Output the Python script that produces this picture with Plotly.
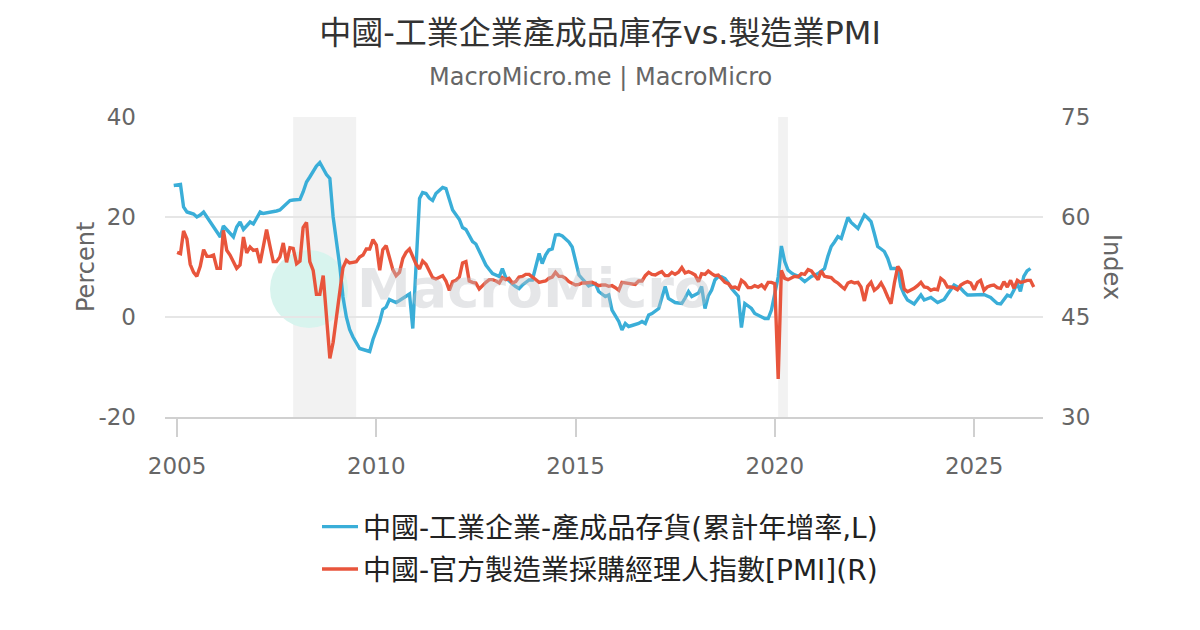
import plotly.graph_objects as go

# 中國-官方製造業PMI (月資料, 2005-01 起)
pmi_values = [
    54.7, 54.5, 57.9, 56.7, 52.9, 51.7, 51.1, 52.6, 55.1, 54.1, 54.1, 54.3,
    52.3, 52.3, 58.0, 55.0, 54.3, 53.3, 52.3, 52.8, 57.0, 54.6, 55.5, 55.0,
    55.1, 53.1, 55.6, 58.1, 55.7, 53.3, 53.3, 54.0, 56.1, 53.2, 55.4, 55.3,
    53.0, 53.4, 58.4, 59.2, 53.3, 52.0, 48.4, 48.4, 51.2, 44.6, 38.8, 41.2,
    45.3, 49.0, 52.4, 53.5, 53.1, 53.2, 53.3, 54.0, 54.3, 55.2, 55.2, 56.6,
    55.8, 52.0, 55.1, 55.7, 53.9, 52.1, 51.2, 51.7, 53.8, 54.7, 55.2, 53.9,
    52.9, 52.2, 53.4, 52.9, 52.0, 50.9, 50.7, 50.9, 51.2, 50.4, 49.0, 50.3,
    50.5, 51.0, 53.1, 53.3, 50.4, 50.2, 50.1, 49.2, 49.8, 50.2, 50.6, 50.6,
    50.4, 50.1, 50.9, 50.6, 50.8, 50.1, 50.3, 51.0, 51.1, 51.4, 51.4, 51.0,
    50.5, 50.2, 50.3, 50.4, 50.8, 51.0, 51.7, 51.1, 51.1, 50.8, 50.3, 50.1,
    49.8, 49.9, 50.1, 50.1, 50.2, 50.2, 50.0, 49.7, 49.8, 49.8, 49.6, 49.7,
    49.4, 49.0, 50.2, 50.1, 50.1, 50.0, 49.9, 50.4, 50.4, 51.2, 51.7, 51.4,
    51.3, 51.6, 51.8, 51.2, 51.2, 51.7, 51.4, 51.7, 52.4, 51.6, 51.8, 51.6,
    51.3, 50.3, 51.5, 51.4, 51.9, 51.5, 51.2, 51.3, 50.8, 50.2, 50.0, 49.4,
    49.5, 49.2, 50.5, 50.1, 49.4, 49.4, 49.7, 49.5, 49.8, 49.3, 50.2, 50.2,
    50.0, 35.7, 52.0, 50.8, 50.6, 50.9, 51.1, 51.0, 51.5, 51.4, 52.1, 51.9,
    51.3, 50.6, 51.9, 51.1, 51.0, 50.9, 50.4, 50.1, 49.6, 49.2, 50.1, 50.3,
    50.1, 50.2, 49.5, 47.4, 49.6, 50.2, 49.0, 49.4, 50.1, 49.2, 48.0, 47.0,
    50.1, 52.6, 51.9, 49.2, 48.8, 49.0, 49.3, 49.7, 50.2, 49.5, 49.4, 49.0,
    49.2, 49.1, 50.8, 50.4, 49.5, 49.5, 49.4, 49.1, 49.8, 50.1, 50.3, 50.1,
    49.1, 50.2, 50.5, 49.0, 49.5, 49.7, 49.8, 49.4, 49.3, 50.3, 49.5, 50.5,
    49.3, 50.5, 50.2, 50.3, 50.5, 50.5, 49.5,
]
pmi_dates = [f"{2005 + i // 12}-{i % 12 + 1:02d}" for i in range(len(pmi_values))]

# 中國-工業企業-產成品存貨(累計年增率), 1月無資料
inv_dates = ["2004-12"] + [
    f"{y}-{m:02d}" for y in range(2005, 2027) for m in range(2, 13)
    if not (y == 2026 and m > 6)
]
inv_values = [
    26.3,
    26.5, 22.0, 21.0, 20.8, 20.6, 20.0, 20.4, 21.0, 20.0, 19.0, 18.0,
    16.0, 18.2, 17.4, 16.8, 16.0, 18.0, 19.0, 17.5, 18.3, 19.0, 18.6,
    21.0, 20.7, 20.8, 21.0, 21.0, 21.2, 21.4, 22.0, 22.8, 23.3, 23.4,
    23.5, 25.0, 27.0, 28.0, 29.3, 30.2, 30.9, 29.5, 28.5, 27.7, 20.0,
    10.0, 4.0, 0.0, -2.5, -4.0, -5.3, -6.3, -6.5, -6.7, -6.9, -4.5,
    -0.9, 1.5, 2.0, 3.5, 3.2, 2.9, 3.3, 3.8, 4.2, 4.6, -2.3,
    23.7, 24.9, 24.7, 23.8, 23.3, 24.7, 25.3, 25.9, 25.7, 23.5, 21.4,
    19.5, 17.9, 17.5, 16.2, 15.1, 14.6, 13.2, 11.8, 10.4, 9.5, 8.7,
    8.1, 9.7, 7.9, 7.2, 6.6, 6.1, 5.7, 6.4, 6.9, 7.4, 7.4,
    12.7, 10.7, 12.4, 13.4, 13.6, 16.4, 16.5, 16.2, 15.7, 15.0, 14.0,
    8.4, 7.7, 6.9, 6.2, 6.5, 6.7, 5.1, 4.6, 4.1, 4.4, 1.4,
    -0.9, -2.6, -1.3, -1.9, -1.7, -1.5, -1.3, -0.9, -1.3, 0.4, 0.7,
    1.7, 4.0, 6.1, 3.7, 3.2, 2.9, 2.8, 2.7, 3.8, 5.1, 4.1,
    4.8, 6.1, 1.7, 4.2, 5.4, 7.4, 8.1, 8.0, 7.7, 6.8, 5.7,
    4.1, -2.1, 2.7, 2.2, 1.7, 0.7, 0.4, 0.1, -0.3, -0.3, 1.4,
    8.0, 14.2, 11.1, 9.4, 8.8, 8.4, 8.2, 7.6, 7.1, 7.6, 8.1,
    8.7, 9.2, 9.7, 12.1, 14.1, 15.0, 16.1, 15.7, 17.8, 19.9, 18.9,
    17.7, 19.0, 20.4, 19.8, 19.1, 16.7, 14.1, 13.6, 13.1, 11.7, 9.7,
    9.7, 6.1, 4.5, 3.4, 3.0, 2.6, 3.5, 4.4, 3.4, 3.6, 3.9,
    2.9, 3.2, 3.5, 4.5, 5.5, 6.4, 6.0, 5.7, 5.0, 4.4, 4.4,
    4.5, 4.5, 4.5, 4.2, 3.9, 3.3, 2.7, 2.6, 3.4, 4.4, 4.1,
    6.7, 5.1, 8.1, 9.2, 9.7,
]

# 衰退期間 (灰色區塊)
recessions = [("2007-12-01", "2009-06-30"), ("2020-02-01", "2020-04-30")]

left_ticks = [-20, 0, 20, 40]
left_ticktext = ["-20", "0", "20", "40"]

title_text = "中國-工業企業產成品庫存vs.製造業PMI"
subtitle_text = "MacroMicro.me | MacroMicro"
inv_name = "中國-工業企業-產成品存貨(累計年增率,L)"
pmi_name = "中國-官方製造業採購經理人指數[PMI](R)"

font_family = "DejaVu Sans, Noto Sans CJK TC, sans-serif"
gray = "#666666"

fig = go.Figure()

fig.add_trace(go.Scatter(
    x=inv_dates, y=inv_values, name=inv_name, mode="lines",
    line=dict(color="#3aaed8", width=3.4), yaxis="y",
    legendgroup="a",
))
fig.add_trace(go.Scatter(
    x=pmi_dates, y=pmi_values, name=pmi_name, mode="lines",
    line=dict(color="#e8553c", width=3.4), yaxis="y2",
    legendgroup="b",
))

for start, end in recessions:
    fig.add_vrect(x0=start, x1=end, fillcolor="#f2f2f2", opacity=1,
                  line_width=0, layer="below")

# 浮水印 (logo 圓形)
fig.add_shape(type="circle", xref="paper", yref="paper",
              x0=(270 - 165) / 878, x1=(348 - 165) / 878,
              y0=(417 - 328) / 300, y1=(417 - 250) / 300,
              fillcolor="#d8f4ee", line_width=0, layer="below")

# 頁面 body 有 8px 邊距, 所有位置往左上移 8px
fig.update_layout(
    width=1200, height=630,
    paper_bgcolor="white", plot_bgcolor="white",
    margin=dict(l=157, r=165, t=109, b=221),
    font=dict(family=font_family, color=gray, size=23),
    title=dict(text=title_text, x=592 / 1200, xref="container",
               y=1 - 25 / 630, yanchor="middle",
               font=dict(size=32, color="#333333")),
    showlegend=True,
    legend=dict(orientation="v", x=(600 - 165) / 878, xanchor="center",
                y=-0.283, yanchor="top",
                font=dict(size=28, color="#222222"),
                tracegroupgap=3, itemwidth=36),
    xaxis=dict(
        type="date", range=["2004-09-12", "2026-09-24"],
        tick0="2005-01-01", dtick="M60", tickformat="%Y",
        showgrid=False, showline=True, linecolor="#d0d0d0", linewidth=1.5,
        ticks="outside", ticklen=18, tickcolor="#d0d0d0", tickwidth=1.5,
        ticklabelstandoff=10, zeroline=False,
    ),
    yaxis=dict(
        range=[-20, 40], tickvals=left_ticks, ticktext=left_ticktext,
        showgrid=True, gridcolor="#e6e6e6", gridwidth=1.5,
        zeroline=False, ticklabelstandoff=28,
    ),
    yaxis2=dict(
        range=[30, 75], dtick=15, overlaying="y", side="right",
        showgrid=False, zeroline=False, ticklabelstandoff=17,
    ),
    annotations=[
        dict(text=subtitle_text, x=(600 - 165) / 878, y=(417 - 77) / 300,
             xref="paper", yref="paper", yanchor="middle", showarrow=False,
             font=dict(size=24, color=gray)),
        dict(text="Percent", textangle=-90, x=(70 - 165) / 878, y=0.5,
             xref="paper", yref="paper", showarrow=False,
             font=dict(size=24, color=gray)),
        dict(text="Index", textangle=90, x=(1128 - 165) / 878, y=0.5,
             xref="paper", yref="paper", showarrow=False,
             font=dict(size=24, color=gray)),
        dict(text="<b>MacroMicro</b>", x=(534 - 165) / 878,
             y=(417 - 288) / 300, xref="paper", yref="paper",
             showarrow=False,
             font=dict(size=54, color="rgba(190,193,198,0.4)")),
    ],
)

fig.write_html("out.html")
